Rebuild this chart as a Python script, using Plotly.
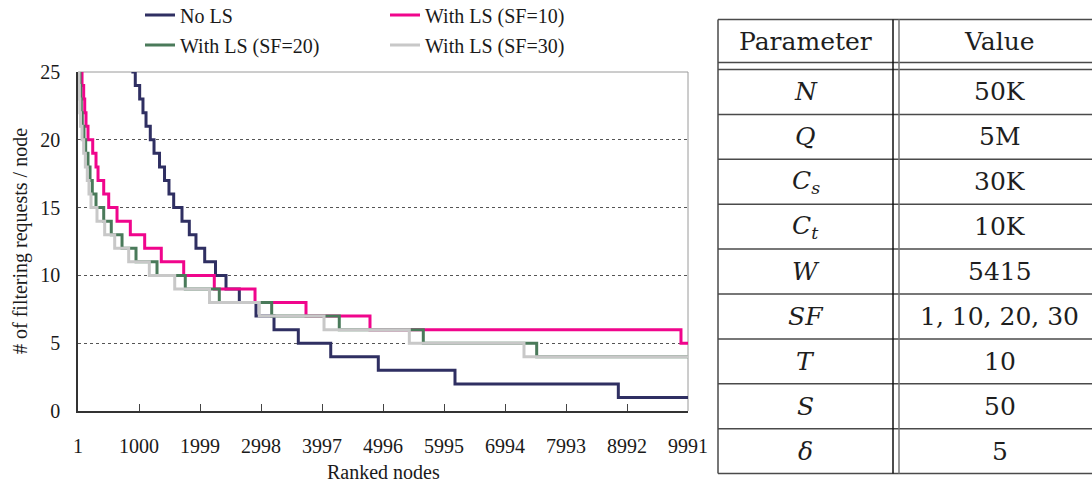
import plotly.graph_objects as go

W, H = 1092, 484

# Step data: rank where each level starts, and the level (# of filtering requests per node)
ranks_no_ls = [1, 900, 939, 1011, 1065, 1115, 1185, 1246, 1336, 1418, 1491, 1568, 1704, 1824,
               1933, 2076, 2253, 2425, 2643, 2916, 3211, 3609, 4140, 4919, 6175, 8850, 9991]
vals_no_ls = [26, 25, 24, 23, 22, 21, 20, 19, 18, 17, 16, 15, 14, 13,
              12, 11, 10, 9, 8, 7, 6, 5, 4, 3, 2, 1, 1]

ranks_sf10 = [1, 40, 67, 94, 111, 132, 165, 242, 296, 329, 422, 504, 640, 858,
              1093, 1365, 1732, 2233, 2900, 3735, 4783, 9876, 9991]
vals_sf10 = [26, 25, 24, 23, 22, 21, 20, 19, 18, 17, 16, 15, 14, 13,
             12, 11, 10, 9, 8, 7, 6, 5, 5]

ranks_sf20 = [1, 20, 34, 45, 55, 71, 99, 127, 165, 198, 235, 296, 422, 546,
              722, 951, 1295, 1758, 2315, 3173, 4280, 5656, 7513, 9991]
vals_sf20 = [26, 25, 24, 23, 22, 21, 20, 19, 18, 17, 16, 15, 14, 13,
             12, 11, 10, 9, 8, 7, 6, 5, 4, 4]

ranks_sf30 = [1, 10, 17, 24, 31, 42, 67, 94, 121, 153, 181, 214, 312, 438,
              602, 831, 1169, 1585, 2155, 2970, 4030, 5427, 7305, 9991]
vals_sf30 = [26, 25, 24, 23, 22, 21, 20, 19, 18, 17, 16, 15, 14, 13,
             12, 11, 10, 9, 8, 7, 6, 5, 4, 4]

series_names = ["No LS", "With LS (SF=10)", "With LS (SF=20)", "With LS (SF=30)"]
series_colors = ["#2F2F62", "#F0058C", "#4A7A5A", "#C8C8C8"]
series_legends = ["legend", "legend", "legend2", "legend2"]

x_tick_vals = [1, 1000, 1999, 2998, 3997, 4996, 5995, 6994, 7993, 8992, 9991]
y_tick_vals = [0, 5, 10, 15, 20, 25]

# Parameter table
table_header = ["Parameter", "Value"]
table_params = ["<i>N</i>", "<i>Q</i>", "<i>C<sub>s</sub></i>", "<i>C<sub>t</sub></i>",
                "<i>W</i>", "<i>SF</i>", "<i>T</i>", "<i>S</i>", "<i>δ</i>"]
table_values = ["50K", "5M", "30K", "10K", "5415", "1, 10, 20, 30", "10", "50", "5"]


def px(x):
    return x / W


def py(y):
    return 1 - y / H


fig = go.Figure()
series = [(ranks_no_ls, vals_no_ls), (ranks_sf10, vals_sf10),
          (ranks_sf20, vals_sf20), (ranks_sf30, vals_sf30)]
for (xs, ys), name, color, lg in zip(series, series_names, series_colors, series_legends):
    fig.add_trace(go.Scatter(
        x=xs, y=ys, mode="lines", name=name, legend=lg,
        line=dict(shape="hv", width=3, color=color),
    ))

serif = "Liberation Serif"
font_main = dict(family=serif, size=20, color="#1a1a1a")

fig.update_layout(
    width=W, height=H,
    margin=dict(l=0, r=0, t=0, b=0, autoexpand=False),
    paper_bgcolor="white", plot_bgcolor="white",
    font=font_main,
    xaxis=dict(
        domain=[px(78), px(688)], range=[1, 9991], automargin=False,
        tickmode="array", tickvals=x_tick_vals, ticktext=[str(v) for v in x_tick_vals],
        ticks="inside", ticklen=7, tickwidth=1, tickcolor="#444",
        showline=True, linecolor="#333", linewidth=1.5,
        showgrid=False, zeroline=False, ticklabelstandoff=16,
    ),
    yaxis=dict(
        domain=[py(411), py(72)], range=[0, 25], automargin=False,
        tickmode="array", tickvals=y_tick_vals,
        ticks="", showline=True, linecolor="#333", linewidth=1.5,
        showgrid=True, gridcolor="#555", gridwidth=1, griddash="dot",
        zeroline=False, ticklabelstandoff=12,
    ),
    legend=dict(orientation="h", x=px(140), y=py(15), xanchor="left", yanchor="middle",
                entrywidth=200, entrywidthmode="pixels", font=font_main,
                bgcolor="rgba(0,0,0,0)"),
    legend2=dict(orientation="h", x=px(140), y=py(45), xanchor="left", yanchor="middle",
                 entrywidth=200, entrywidthmode="pixels", font=font_main,
                 bgcolor="rgba(0,0,0,0)"),
)

# Light frame on the top and right of the plot area
fig.add_shape(type="line", xref="x domain", yref="y domain", x0=0, x1=1, y0=1, y1=1,
              line=dict(color="#9a9a9a", width=1), layer="below")
fig.add_shape(type="line", xref="x domain", yref="y domain", x0=1, x1=1, y0=0, y1=1,
              line=dict(color="#9a9a9a", width=1), layer="below")

# Axis titles
fig.add_annotation(text="Ranked nodes", x=px(383), y=py(472), xref="paper", yref="paper",
                   showarrow=False, xanchor="center", yanchor="middle", font=font_main)
fig.add_annotation(text="# of filtering requests / node", x=px(20), y=py(241),
                   xref="paper", yref="paper", showarrow=False, textangle=-90,
                   xanchor="center", yanchor="middle", font=font_main)

# Table grid (its right edge runs to the border of the figure)
t_left, t_right = 718, W
div_a, div_b = 893, 899
head_top, head_bot = 19.5, 62.5
body_top, row_h = 69.5, 44.9
body_bot = body_top + row_h * len(table_params)
grid_col = "#4a4a4a"


def hline(y, color=grid_col, width=1.5):
    fig.add_shape(type="line", xref="paper", yref="paper",
                  x0=px(t_left), x1=px(t_right), y0=py(y), y1=py(y),
                  line=dict(color=color, width=width))


def vline(x, y0, y1, color=grid_col, width=1.5):
    fig.add_shape(type="line", xref="paper", yref="paper",
                  x0=px(x), x1=px(x), y0=py(y0), y1=py(y1),
                  line=dict(color=color, width=width))


hline(head_top)
hline(head_bot)
for i in range(len(table_params) + 1):
    hline(body_top + i * row_h)
vline(t_left, head_top, body_bot)
vline(div_a, head_top, body_bot, color="#111")
vline(div_b, head_top, body_bot, color="#777")

font_tbl = dict(family="DejaVu Serif", size=25, color="#1e1e1e")
c1 = (t_left + div_a) / 2
c2 = 999.5
yh = (head_top + head_bot) / 2
fig.add_annotation(text=table_header[0], x=px(c1), y=py(yh), xref="paper", yref="paper",
                   showarrow=False, xanchor="center", yanchor="middle", font=font_tbl)
fig.add_annotation(text=table_header[1], x=px(c2), y=py(yh), xref="paper", yref="paper",
                   showarrow=False, xanchor="center", yanchor="middle", font=font_tbl)
for i, (p, v) in enumerate(zip(table_params, table_values)):
    yc = body_top + (i + 0.5) * row_h
    fig.add_annotation(text=p, x=px(c1), y=py(yc), xref="paper", yref="paper",
                       showarrow=False, xanchor="center", yanchor="middle", font=font_tbl)
    fig.add_annotation(text=v, x=px(c2), y=py(yc), xref="paper", yref="paper",
                       showarrow=False, xanchor="center", yanchor="middle", font=font_tbl)

fig.write_html("out.html")
